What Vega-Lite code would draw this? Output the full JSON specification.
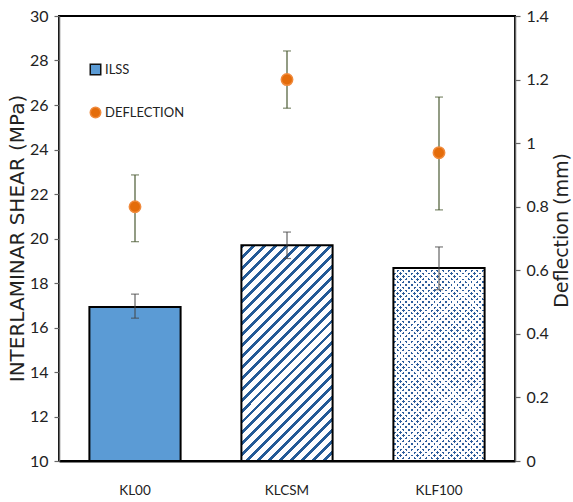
{
"$schema":"https://vega.github.io/schema/vega-lite/v6.json",
"width":456,"height":445,
"autosize":"none",
"padding":{"left":59,"top":16,"right":58,"bottom":41},
"background":"#ffffff",
"data":{"values":[
{"sample":"KL00","ilss":16.92,"ilss_lo":16.42,"ilss_hi":17.5,"defl":0.8,"defl_lo":0.69,"defl_hi":0.9,"series":"DEFLECTION"},
{"sample":"KLCSM","ilss":19.7,"ilss_lo":19.1,"ilss_hi":20.29,"defl":1.2,"defl_lo":1.11,"defl_hi":1.29,"series":"DEFLECTION"},
{"sample":"KLF100","ilss":18.67,"ilss_lo":17.7,"ilss_hi":19.62,"defl":0.97,"defl_lo":0.79,"defl_hi":1.145,"series":"DEFLECTION"}
]},
"encoding":{
"x":{"field":"sample","type":"nominal","sort":["KL00","KLCSM","KLF100"],"scale":{"paddingInner":0.4,"paddingOuter":0.2},
"axis":{"orient":"bottom","title":null,"domainColor":"#000","domainWidth":2,"ticks":false,"labelFont":"Lato","labelFontSize":13.5,"labelColor":"#222","labelPadding":22,"labelAngle":0}}
},
"layer":[
{"layer":[
{"transform":[{"filter":"datum.sample=='KL00'"}],
"mark":{"type":"bar","fill":"#5b9bd5","stroke":"#000","strokeWidth":2},
"encoding":{"y":{"field":"ilss","type":"quantitative","title":"INTERLAMINAR SHEAR (MPa)","scale":{"domain":[10,30],"nice":false,"zero":false},
"axis":{"orient":"left","values":[10,12,14,16,18,20,22,24,26,28,30],"format":"d","grid":false,"domainColor":"#666","domainWidth":1.5,"tickColor":"#666","tickSize":5,"tickWidth":1.2,"labelFont":"Lato","labelFontSize":16,"labelColor":"#222","labelPadding":6,"titleFont":"DejaVu Sans","titleFontSize":20,"titleFontWeight":"normal","titleColor":"#222","titleX":-36,"titleY":222,"titleAngle":270,"titleAlign":"center","titleBaseline":"alphabetic"}},
"y2":{"datum":10}}},
{"transform":[{"filter":"datum.sample=='KLCSM'"}],
"mark":{"type":"bar","stroke":"#000","strokeWidth":2,"fill":{"gradient":"linear","x1":0,"y1":0,"x2":0.5101,"y2":1.207,"stops":[
{"offset":0,"color":"#245b97"},{"offset":0.01286,"color":"#245b97"},{"offset":0.01286,"color":"#fff"},{"offset":0.03571,"color":"#fff"},
{"offset":0.03571,"color":"#245b97"},{"offset":0.04857,"color":"#245b97"},{"offset":0.04857,"color":"#fff"},{"offset":0.07143,"color":"#fff"},
{"offset":0.07143,"color":"#245b97"},{"offset":0.08429,"color":"#245b97"},{"offset":0.08429,"color":"#fff"},{"offset":0.10714,"color":"#fff"},
{"offset":0.10714,"color":"#245b97"},{"offset":0.12,"color":"#245b97"},{"offset":0.12,"color":"#fff"},{"offset":0.14286,"color":"#fff"},
{"offset":0.14286,"color":"#245b97"},{"offset":0.15571,"color":"#245b97"},{"offset":0.15571,"color":"#fff"},{"offset":0.17857,"color":"#fff"},
{"offset":0.17857,"color":"#245b97"},{"offset":0.19143,"color":"#245b97"},{"offset":0.19143,"color":"#fff"},{"offset":0.21429,"color":"#fff"},
{"offset":0.21429,"color":"#245b97"},{"offset":0.22714,"color":"#245b97"},{"offset":0.22714,"color":"#fff"},{"offset":0.25,"color":"#fff"},
{"offset":0.25,"color":"#245b97"},{"offset":0.26286,"color":"#245b97"},{"offset":0.26286,"color":"#fff"},{"offset":0.28571,"color":"#fff"},
{"offset":0.28571,"color":"#245b97"},{"offset":0.29857,"color":"#245b97"},{"offset":0.29857,"color":"#fff"},{"offset":0.32143,"color":"#fff"},
{"offset":0.32143,"color":"#245b97"},{"offset":0.33429,"color":"#245b97"},{"offset":0.33429,"color":"#fff"},{"offset":0.35714,"color":"#fff"},
{"offset":0.35714,"color":"#245b97"},{"offset":0.37,"color":"#245b97"},{"offset":0.37,"color":"#fff"},{"offset":0.39286,"color":"#fff"},
{"offset":0.39286,"color":"#245b97"},{"offset":0.40571,"color":"#245b97"},{"offset":0.40571,"color":"#fff"},{"offset":0.42857,"color":"#fff"},
{"offset":0.42857,"color":"#245b97"},{"offset":0.44143,"color":"#245b97"},{"offset":0.44143,"color":"#fff"},{"offset":0.46429,"color":"#fff"},
{"offset":0.46429,"color":"#245b97"},{"offset":0.47714,"color":"#245b97"},{"offset":0.47714,"color":"#fff"},{"offset":0.5,"color":"#fff"},
{"offset":0.5,"color":"#245b97"},{"offset":0.51286,"color":"#245b97"},{"offset":0.51286,"color":"#fff"},{"offset":0.53571,"color":"#fff"},
{"offset":0.53571,"color":"#245b97"},{"offset":0.54857,"color":"#245b97"},{"offset":0.54857,"color":"#fff"},{"offset":0.57143,"color":"#fff"},
{"offset":0.57143,"color":"#245b97"},{"offset":0.58429,"color":"#245b97"},{"offset":0.58429,"color":"#fff"},{"offset":0.60714,"color":"#fff"},
{"offset":0.60714,"color":"#245b97"},{"offset":0.62,"color":"#245b97"},{"offset":0.62,"color":"#fff"},{"offset":0.64286,"color":"#fff"},
{"offset":0.64286,"color":"#245b97"},{"offset":0.65571,"color":"#245b97"},{"offset":0.65571,"color":"#fff"},{"offset":0.67857,"color":"#fff"},
{"offset":0.67857,"color":"#245b97"},{"offset":0.69143,"color":"#245b97"},{"offset":0.69143,"color":"#fff"},{"offset":0.71429,"color":"#fff"},
{"offset":0.71429,"color":"#245b97"},{"offset":0.72714,"color":"#245b97"},{"offset":0.72714,"color":"#fff"},{"offset":0.75,"color":"#fff"},
{"offset":0.75,"color":"#245b97"},{"offset":0.76286,"color":"#245b97"},{"offset":0.76286,"color":"#fff"},{"offset":0.78571,"color":"#fff"},
{"offset":0.78571,"color":"#245b97"},{"offset":0.79857,"color":"#245b97"},{"offset":0.79857,"color":"#fff"},{"offset":0.82143,"color":"#fff"},
{"offset":0.82143,"color":"#245b97"},{"offset":0.83429,"color":"#245b97"},{"offset":0.83429,"color":"#fff"},{"offset":0.85714,"color":"#fff"},
{"offset":0.85714,"color":"#245b97"},{"offset":0.87,"color":"#245b97"},{"offset":0.87,"color":"#fff"},{"offset":0.89286,"color":"#fff"},
{"offset":0.89286,"color":"#245b97"},{"offset":0.90571,"color":"#245b97"},{"offset":0.90571,"color":"#fff"},{"offset":0.92857,"color":"#fff"},
{"offset":0.92857,"color":"#245b97"},{"offset":0.94143,"color":"#245b97"},{"offset":0.94143,"color":"#fff"},{"offset":0.96429,"color":"#fff"},
{"offset":0.96429,"color":"#245b97"},{"offset":0.97714,"color":"#245b97"},{"offset":0.97714,"color":"#fff"},{"offset":1,"color":"#fff"}
]}},
"encoding":{"y":{"field":"ilss","type":"quantitative","title":"INTERLAMINAR SHEAR (MPa)"},"y2":{"datum":10}}},
{"transform":[{"filter":"datum.sample=='KLF100'"}],
"mark":{"type":"bar","strokeWidth":0,"fill":{"gradient":"linear","x1":0,"y1":0,"x2":0.5691,"y2":1.2037,"stops":[
{"offset":0,"color":"#2c5d9c"},{"offset":0.009,"color":"#2c5d9c"},{"offset":0.009,"color":"#fff"},{"offset":0.02,"color":"#fff"},
{"offset":0.02,"color":"#2c5d9c"},{"offset":0.029,"color":"#2c5d9c"},{"offset":0.029,"color":"#fff"},{"offset":0.04,"color":"#fff"},
{"offset":0.04,"color":"#2c5d9c"},{"offset":0.049,"color":"#2c5d9c"},{"offset":0.049,"color":"#fff"},{"offset":0.06,"color":"#fff"},
{"offset":0.06,"color":"#2c5d9c"},{"offset":0.069,"color":"#2c5d9c"},{"offset":0.069,"color":"#fff"},{"offset":0.08,"color":"#fff"},
{"offset":0.08,"color":"#2c5d9c"},{"offset":0.089,"color":"#2c5d9c"},{"offset":0.089,"color":"#fff"},{"offset":0.1,"color":"#fff"},
{"offset":0.1,"color":"#2c5d9c"},{"offset":0.109,"color":"#2c5d9c"},{"offset":0.109,"color":"#fff"},{"offset":0.12,"color":"#fff"},
{"offset":0.12,"color":"#2c5d9c"},{"offset":0.129,"color":"#2c5d9c"},{"offset":0.129,"color":"#fff"},{"offset":0.14,"color":"#fff"},
{"offset":0.14,"color":"#2c5d9c"},{"offset":0.149,"color":"#2c5d9c"},{"offset":0.149,"color":"#fff"},{"offset":0.16,"color":"#fff"},
{"offset":0.16,"color":"#2c5d9c"},{"offset":0.169,"color":"#2c5d9c"},{"offset":0.169,"color":"#fff"},{"offset":0.18,"color":"#fff"},
{"offset":0.18,"color":"#2c5d9c"},{"offset":0.189,"color":"#2c5d9c"},{"offset":0.189,"color":"#fff"},{"offset":0.2,"color":"#fff"},
{"offset":0.2,"color":"#2c5d9c"},{"offset":0.209,"color":"#2c5d9c"},{"offset":0.209,"color":"#fff"},{"offset":0.22,"color":"#fff"},
{"offset":0.22,"color":"#2c5d9c"},{"offset":0.229,"color":"#2c5d9c"},{"offset":0.229,"color":"#fff"},{"offset":0.24,"color":"#fff"},
{"offset":0.24,"color":"#2c5d9c"},{"offset":0.249,"color":"#2c5d9c"},{"offset":0.249,"color":"#fff"},{"offset":0.26,"color":"#fff"},
{"offset":0.26,"color":"#2c5d9c"},{"offset":0.269,"color":"#2c5d9c"},{"offset":0.269,"color":"#fff"},{"offset":0.28,"color":"#fff"},
{"offset":0.28,"color":"#2c5d9c"},{"offset":0.289,"color":"#2c5d9c"},{"offset":0.289,"color":"#fff"},{"offset":0.3,"color":"#fff"},
{"offset":0.3,"color":"#2c5d9c"},{"offset":0.309,"color":"#2c5d9c"},{"offset":0.309,"color":"#fff"},{"offset":0.32,"color":"#fff"},
{"offset":0.32,"color":"#2c5d9c"},{"offset":0.329,"color":"#2c5d9c"},{"offset":0.329,"color":"#fff"},{"offset":0.34,"color":"#fff"},
{"offset":0.34,"color":"#2c5d9c"},{"offset":0.349,"color":"#2c5d9c"},{"offset":0.349,"color":"#fff"},{"offset":0.36,"color":"#fff"},
{"offset":0.36,"color":"#2c5d9c"},{"offset":0.369,"color":"#2c5d9c"},{"offset":0.369,"color":"#fff"},{"offset":0.38,"color":"#fff"},
{"offset":0.38,"color":"#2c5d9c"},{"offset":0.389,"color":"#2c5d9c"},{"offset":0.389,"color":"#fff"},{"offset":0.4,"color":"#fff"},
{"offset":0.4,"color":"#2c5d9c"},{"offset":0.409,"color":"#2c5d9c"},{"offset":0.409,"color":"#fff"},{"offset":0.42,"color":"#fff"},
{"offset":0.42,"color":"#2c5d9c"},{"offset":0.429,"color":"#2c5d9c"},{"offset":0.429,"color":"#fff"},{"offset":0.44,"color":"#fff"},
{"offset":0.44,"color":"#2c5d9c"},{"offset":0.449,"color":"#2c5d9c"},{"offset":0.449,"color":"#fff"},{"offset":0.46,"color":"#fff"},
{"offset":0.46,"color":"#2c5d9c"},{"offset":0.469,"color":"#2c5d9c"},{"offset":0.469,"color":"#fff"},{"offset":0.48,"color":"#fff"},
{"offset":0.48,"color":"#2c5d9c"},{"offset":0.489,"color":"#2c5d9c"},{"offset":0.489,"color":"#fff"},{"offset":0.5,"color":"#fff"},
{"offset":0.5,"color":"#2c5d9c"},{"offset":0.509,"color":"#2c5d9c"},{"offset":0.509,"color":"#fff"},{"offset":0.52,"color":"#fff"},
{"offset":0.52,"color":"#2c5d9c"},{"offset":0.529,"color":"#2c5d9c"},{"offset":0.529,"color":"#fff"},{"offset":0.54,"color":"#fff"},
{"offset":0.54,"color":"#2c5d9c"},{"offset":0.549,"color":"#2c5d9c"},{"offset":0.549,"color":"#fff"},{"offset":0.56,"color":"#fff"},
{"offset":0.56,"color":"#2c5d9c"},{"offset":0.569,"color":"#2c5d9c"},{"offset":0.569,"color":"#fff"},{"offset":0.58,"color":"#fff"},
{"offset":0.58,"color":"#2c5d9c"},{"offset":0.589,"color":"#2c5d9c"},{"offset":0.589,"color":"#fff"},{"offset":0.6,"color":"#fff"},
{"offset":0.6,"color":"#2c5d9c"},{"offset":0.609,"color":"#2c5d9c"},{"offset":0.609,"color":"#fff"},{"offset":0.62,"color":"#fff"},
{"offset":0.62,"color":"#2c5d9c"},{"offset":0.629,"color":"#2c5d9c"},{"offset":0.629,"color":"#fff"},{"offset":0.64,"color":"#fff"},
{"offset":0.64,"color":"#2c5d9c"},{"offset":0.649,"color":"#2c5d9c"},{"offset":0.649,"color":"#fff"},{"offset":0.66,"color":"#fff"},
{"offset":0.66,"color":"#2c5d9c"},{"offset":0.669,"color":"#2c5d9c"},{"offset":0.669,"color":"#fff"},{"offset":0.68,"color":"#fff"},
{"offset":0.68,"color":"#2c5d9c"},{"offset":0.689,"color":"#2c5d9c"},{"offset":0.689,"color":"#fff"},{"offset":0.7,"color":"#fff"},
{"offset":0.7,"color":"#2c5d9c"},{"offset":0.709,"color":"#2c5d9c"},{"offset":0.709,"color":"#fff"},{"offset":0.72,"color":"#fff"},
{"offset":0.72,"color":"#2c5d9c"},{"offset":0.729,"color":"#2c5d9c"},{"offset":0.729,"color":"#fff"},{"offset":0.74,"color":"#fff"},
{"offset":0.74,"color":"#2c5d9c"},{"offset":0.749,"color":"#2c5d9c"},{"offset":0.749,"color":"#fff"},{"offset":0.76,"color":"#fff"},
{"offset":0.76,"color":"#2c5d9c"},{"offset":0.769,"color":"#2c5d9c"},{"offset":0.769,"color":"#fff"},{"offset":0.78,"color":"#fff"},
{"offset":0.78,"color":"#2c5d9c"},{"offset":0.789,"color":"#2c5d9c"},{"offset":0.789,"color":"#fff"},{"offset":0.8,"color":"#fff"},
{"offset":0.8,"color":"#2c5d9c"},{"offset":0.809,"color":"#2c5d9c"},{"offset":0.809,"color":"#fff"},{"offset":0.82,"color":"#fff"},
{"offset":0.82,"color":"#2c5d9c"},{"offset":0.829,"color":"#2c5d9c"},{"offset":0.829,"color":"#fff"},{"offset":0.84,"color":"#fff"},
{"offset":0.84,"color":"#2c5d9c"},{"offset":0.849,"color":"#2c5d9c"},{"offset":0.849,"color":"#fff"},{"offset":0.86,"color":"#fff"},
{"offset":0.86,"color":"#2c5d9c"},{"offset":0.869,"color":"#2c5d9c"},{"offset":0.869,"color":"#fff"},{"offset":0.88,"color":"#fff"},
{"offset":0.88,"color":"#2c5d9c"},{"offset":0.889,"color":"#2c5d9c"},{"offset":0.889,"color":"#fff"},{"offset":0.9,"color":"#fff"},
{"offset":0.9,"color":"#2c5d9c"},{"offset":0.909,"color":"#2c5d9c"},{"offset":0.909,"color":"#fff"},{"offset":0.92,"color":"#fff"},
{"offset":0.92,"color":"#2c5d9c"},{"offset":0.929,"color":"#2c5d9c"},{"offset":0.929,"color":"#fff"},{"offset":0.94,"color":"#fff"},
{"offset":0.94,"color":"#2c5d9c"},{"offset":0.949,"color":"#2c5d9c"},{"offset":0.949,"color":"#fff"},{"offset":0.96,"color":"#fff"},
{"offset":0.96,"color":"#2c5d9c"},{"offset":0.969,"color":"#2c5d9c"},{"offset":0.969,"color":"#fff"},{"offset":0.98,"color":"#fff"},
{"offset":0.98,"color":"#2c5d9c"},{"offset":0.989,"color":"#2c5d9c"},{"offset":0.989,"color":"#fff"},{"offset":1,"color":"#fff"}
]}},
"encoding":{"y":{"field":"ilss","type":"quantitative","title":"INTERLAMINAR SHEAR (MPa)"},"y2":{"datum":10}}},
{"transform":[{"filter":"datum.sample=='KLF100'"}],
"mark":{"type":"bar","stroke":"#000","strokeWidth":2,"fill":{"gradient":"linear","x1":0,"y1":1,"x2":0.5691,"y2":-0.2037,"stops":[
{"offset":0,"color":"rgba(255,255,255,0)"},{"offset":0.009,"color":"rgba(255,255,255,0)"},{"offset":0.009,"color":"#fff"},{"offset":0.02,"color":"#fff"},
{"offset":0.02,"color":"rgba(255,255,255,0)"},{"offset":0.029,"color":"rgba(255,255,255,0)"},{"offset":0.029,"color":"#fff"},{"offset":0.04,"color":"#fff"},
{"offset":0.04,"color":"rgba(255,255,255,0)"},{"offset":0.049,"color":"rgba(255,255,255,0)"},{"offset":0.049,"color":"#fff"},{"offset":0.06,"color":"#fff"},
{"offset":0.06,"color":"rgba(255,255,255,0)"},{"offset":0.069,"color":"rgba(255,255,255,0)"},{"offset":0.069,"color":"#fff"},{"offset":0.08,"color":"#fff"},
{"offset":0.08,"color":"rgba(255,255,255,0)"},{"offset":0.089,"color":"rgba(255,255,255,0)"},{"offset":0.089,"color":"#fff"},{"offset":0.1,"color":"#fff"},
{"offset":0.1,"color":"rgba(255,255,255,0)"},{"offset":0.109,"color":"rgba(255,255,255,0)"},{"offset":0.109,"color":"#fff"},{"offset":0.12,"color":"#fff"},
{"offset":0.12,"color":"rgba(255,255,255,0)"},{"offset":0.129,"color":"rgba(255,255,255,0)"},{"offset":0.129,"color":"#fff"},{"offset":0.14,"color":"#fff"},
{"offset":0.14,"color":"rgba(255,255,255,0)"},{"offset":0.149,"color":"rgba(255,255,255,0)"},{"offset":0.149,"color":"#fff"},{"offset":0.16,"color":"#fff"},
{"offset":0.16,"color":"rgba(255,255,255,0)"},{"offset":0.169,"color":"rgba(255,255,255,0)"},{"offset":0.169,"color":"#fff"},{"offset":0.18,"color":"#fff"},
{"offset":0.18,"color":"rgba(255,255,255,0)"},{"offset":0.189,"color":"rgba(255,255,255,0)"},{"offset":0.189,"color":"#fff"},{"offset":0.2,"color":"#fff"},
{"offset":0.2,"color":"rgba(255,255,255,0)"},{"offset":0.209,"color":"rgba(255,255,255,0)"},{"offset":0.209,"color":"#fff"},{"offset":0.22,"color":"#fff"},
{"offset":0.22,"color":"rgba(255,255,255,0)"},{"offset":0.229,"color":"rgba(255,255,255,0)"},{"offset":0.229,"color":"#fff"},{"offset":0.24,"color":"#fff"},
{"offset":0.24,"color":"rgba(255,255,255,0)"},{"offset":0.249,"color":"rgba(255,255,255,0)"},{"offset":0.249,"color":"#fff"},{"offset":0.26,"color":"#fff"},
{"offset":0.26,"color":"rgba(255,255,255,0)"},{"offset":0.269,"color":"rgba(255,255,255,0)"},{"offset":0.269,"color":"#fff"},{"offset":0.28,"color":"#fff"},
{"offset":0.28,"color":"rgba(255,255,255,0)"},{"offset":0.289,"color":"rgba(255,255,255,0)"},{"offset":0.289,"color":"#fff"},{"offset":0.3,"color":"#fff"},
{"offset":0.3,"color":"rgba(255,255,255,0)"},{"offset":0.309,"color":"rgba(255,255,255,0)"},{"offset":0.309,"color":"#fff"},{"offset":0.32,"color":"#fff"},
{"offset":0.32,"color":"rgba(255,255,255,0)"},{"offset":0.329,"color":"rgba(255,255,255,0)"},{"offset":0.329,"color":"#fff"},{"offset":0.34,"color":"#fff"},
{"offset":0.34,"color":"rgba(255,255,255,0)"},{"offset":0.349,"color":"rgba(255,255,255,0)"},{"offset":0.349,"color":"#fff"},{"offset":0.36,"color":"#fff"},
{"offset":0.36,"color":"rgba(255,255,255,0)"},{"offset":0.369,"color":"rgba(255,255,255,0)"},{"offset":0.369,"color":"#fff"},{"offset":0.38,"color":"#fff"},
{"offset":0.38,"color":"rgba(255,255,255,0)"},{"offset":0.389,"color":"rgba(255,255,255,0)"},{"offset":0.389,"color":"#fff"},{"offset":0.4,"color":"#fff"},
{"offset":0.4,"color":"rgba(255,255,255,0)"},{"offset":0.409,"color":"rgba(255,255,255,0)"},{"offset":0.409,"color":"#fff"},{"offset":0.42,"color":"#fff"},
{"offset":0.42,"color":"rgba(255,255,255,0)"},{"offset":0.429,"color":"rgba(255,255,255,0)"},{"offset":0.429,"color":"#fff"},{"offset":0.44,"color":"#fff"},
{"offset":0.44,"color":"rgba(255,255,255,0)"},{"offset":0.449,"color":"rgba(255,255,255,0)"},{"offset":0.449,"color":"#fff"},{"offset":0.46,"color":"#fff"},
{"offset":0.46,"color":"rgba(255,255,255,0)"},{"offset":0.469,"color":"rgba(255,255,255,0)"},{"offset":0.469,"color":"#fff"},{"offset":0.48,"color":"#fff"},
{"offset":0.48,"color":"rgba(255,255,255,0)"},{"offset":0.489,"color":"rgba(255,255,255,0)"},{"offset":0.489,"color":"#fff"},{"offset":0.5,"color":"#fff"},
{"offset":0.5,"color":"rgba(255,255,255,0)"},{"offset":0.509,"color":"rgba(255,255,255,0)"},{"offset":0.509,"color":"#fff"},{"offset":0.52,"color":"#fff"},
{"offset":0.52,"color":"rgba(255,255,255,0)"},{"offset":0.529,"color":"rgba(255,255,255,0)"},{"offset":0.529,"color":"#fff"},{"offset":0.54,"color":"#fff"},
{"offset":0.54,"color":"rgba(255,255,255,0)"},{"offset":0.549,"color":"rgba(255,255,255,0)"},{"offset":0.549,"color":"#fff"},{"offset":0.56,"color":"#fff"},
{"offset":0.56,"color":"rgba(255,255,255,0)"},{"offset":0.569,"color":"rgba(255,255,255,0)"},{"offset":0.569,"color":"#fff"},{"offset":0.58,"color":"#fff"},
{"offset":0.58,"color":"rgba(255,255,255,0)"},{"offset":0.589,"color":"rgba(255,255,255,0)"},{"offset":0.589,"color":"#fff"},{"offset":0.6,"color":"#fff"},
{"offset":0.6,"color":"rgba(255,255,255,0)"},{"offset":0.609,"color":"rgba(255,255,255,0)"},{"offset":0.609,"color":"#fff"},{"offset":0.62,"color":"#fff"},
{"offset":0.62,"color":"rgba(255,255,255,0)"},{"offset":0.629,"color":"rgba(255,255,255,0)"},{"offset":0.629,"color":"#fff"},{"offset":0.64,"color":"#fff"},
{"offset":0.64,"color":"rgba(255,255,255,0)"},{"offset":0.649,"color":"rgba(255,255,255,0)"},{"offset":0.649,"color":"#fff"},{"offset":0.66,"color":"#fff"},
{"offset":0.66,"color":"rgba(255,255,255,0)"},{"offset":0.669,"color":"rgba(255,255,255,0)"},{"offset":0.669,"color":"#fff"},{"offset":0.68,"color":"#fff"},
{"offset":0.68,"color":"rgba(255,255,255,0)"},{"offset":0.689,"color":"rgba(255,255,255,0)"},{"offset":0.689,"color":"#fff"},{"offset":0.7,"color":"#fff"},
{"offset":0.7,"color":"rgba(255,255,255,0)"},{"offset":0.709,"color":"rgba(255,255,255,0)"},{"offset":0.709,"color":"#fff"},{"offset":0.72,"color":"#fff"},
{"offset":0.72,"color":"rgba(255,255,255,0)"},{"offset":0.729,"color":"rgba(255,255,255,0)"},{"offset":0.729,"color":"#fff"},{"offset":0.74,"color":"#fff"},
{"offset":0.74,"color":"rgba(255,255,255,0)"},{"offset":0.749,"color":"rgba(255,255,255,0)"},{"offset":0.749,"color":"#fff"},{"offset":0.76,"color":"#fff"},
{"offset":0.76,"color":"rgba(255,255,255,0)"},{"offset":0.769,"color":"rgba(255,255,255,0)"},{"offset":0.769,"color":"#fff"},{"offset":0.78,"color":"#fff"},
{"offset":0.78,"color":"rgba(255,255,255,0)"},{"offset":0.789,"color":"rgba(255,255,255,0)"},{"offset":0.789,"color":"#fff"},{"offset":0.8,"color":"#fff"},
{"offset":0.8,"color":"rgba(255,255,255,0)"},{"offset":0.809,"color":"rgba(255,255,255,0)"},{"offset":0.809,"color":"#fff"},{"offset":0.82,"color":"#fff"},
{"offset":0.82,"color":"rgba(255,255,255,0)"},{"offset":0.829,"color":"rgba(255,255,255,0)"},{"offset":0.829,"color":"#fff"},{"offset":0.84,"color":"#fff"},
{"offset":0.84,"color":"rgba(255,255,255,0)"},{"offset":0.849,"color":"rgba(255,255,255,0)"},{"offset":0.849,"color":"#fff"},{"offset":0.86,"color":"#fff"},
{"offset":0.86,"color":"rgba(255,255,255,0)"},{"offset":0.869,"color":"rgba(255,255,255,0)"},{"offset":0.869,"color":"#fff"},{"offset":0.88,"color":"#fff"},
{"offset":0.88,"color":"rgba(255,255,255,0)"},{"offset":0.889,"color":"rgba(255,255,255,0)"},{"offset":0.889,"color":"#fff"},{"offset":0.9,"color":"#fff"},
{"offset":0.9,"color":"rgba(255,255,255,0)"},{"offset":0.909,"color":"rgba(255,255,255,0)"},{"offset":0.909,"color":"#fff"},{"offset":0.92,"color":"#fff"},
{"offset":0.92,"color":"rgba(255,255,255,0)"},{"offset":0.929,"color":"rgba(255,255,255,0)"},{"offset":0.929,"color":"#fff"},{"offset":0.94,"color":"#fff"},
{"offset":0.94,"color":"rgba(255,255,255,0)"},{"offset":0.949,"color":"rgba(255,255,255,0)"},{"offset":0.949,"color":"#fff"},{"offset":0.96,"color":"#fff"},
{"offset":0.96,"color":"rgba(255,255,255,0)"},{"offset":0.969,"color":"rgba(255,255,255,0)"},{"offset":0.969,"color":"#fff"},{"offset":0.98,"color":"#fff"},
{"offset":0.98,"color":"rgba(255,255,255,0)"},{"offset":0.989,"color":"rgba(255,255,255,0)"},{"offset":0.989,"color":"#fff"},{"offset":1,"color":"#fff"}
]}},
"encoding":{"y":{"field":"ilss","type":"quantitative","title":"INTERLAMINAR SHEAR (MPa)"},"y2":{"datum":10}}},
{"mark":{"type":"rule","color":"#444","strokeWidth":1},
"encoding":{"y":{"field":"ilss_lo","type":"quantitative","title":"INTERLAMINAR SHEAR (MPa)"},"y2":{"field":"ilss_hi"}}},
{"mark":{"type":"tick","color":"#444","size":8,"thickness":1.2},
"encoding":{"y":{"field":"ilss_lo","type":"quantitative","title":"INTERLAMINAR SHEAR (MPa)"}}},
{"mark":{"type":"tick","color":"#444","size":8,"thickness":1.2},
"encoding":{"y":{"field":"ilss_hi","type":"quantitative","title":"INTERLAMINAR SHEAR (MPa)"}}}
]},
{"layer":[
{"mark":{"type":"rule","color":"#4a5a32","strokeWidth":1.2},
"encoding":{"y":{"field":"defl_lo","type":"quantitative","title":"Deflection (mm)","scale":{"domain":[0,1.4],"nice":false},
"axis":{"orient":"right","values":[0,0.2,0.4,0.6,0.8,1,1.2,1.4],"format":"~g","grid":false,"domainColor":"#666","domainWidth":1.5,"tickColor":"#666","tickSize":5,"tickWidth":1.2,"labelFont":"Lato","labelFontSize":16,"labelColor":"#222","labelPadding":6,"titleFont":"DejaVu Sans","titleFontSize":19,"titleFontWeight":"normal","titleColor":"#222","titleX":52,"titleY":214,"titleAngle":270,"titleAlign":"center","titleBaseline":"alphabetic"}},
"y2":{"field":"defl_hi"}}},
{"mark":{"type":"tick","color":"#4a5a32","size":8,"thickness":1.2},
"encoding":{"y":{"field":"defl_lo","type":"quantitative","title":"Deflection (mm)"}}},
{"mark":{"type":"tick","color":"#4a5a32","size":8,"thickness":1.2},
"encoding":{"y":{"field":"defl_hi","type":"quantitative","title":"Deflection (mm)"}}},
{"mark":{"type":"point","filled":true,"opacity":1,"size":130,"strokeWidth":1.5},
"encoding":{"y":{"field":"defl","type":"quantitative","title":"Deflection (mm)"},
"color":{"field":"series","type":"nominal","scale":{"domain":["ILSS","DEFLECTION"],"range":["#5b9bd5","#e46c0a"]},
"legend":{"title":null,"orient":"none","legendX":30,"legendY":47,"padding":0,"rowPadding":26,"symbolSize":110,"symbolStrokeWidth":1.5,"labelFont":"Lato","labelFontSize":13,"labelColor":"#222","labelOffset":3}},
"shape":{"field":"series","type":"nominal","scale":{"domain":["ILSS","DEFLECTION"],"range":["square","circle"]}},
"stroke":{"field":"series","type":"nominal","scale":{"domain":["ILSS","DEFLECTION"],"range":["#111111","#f08a3c"]}}}}
]}
],
"resolve":{"scale":{"y":"independent"}},
"config":{"view":{"stroke":"#000","strokeWidth":2},"axis":{"grid":false}}
}
